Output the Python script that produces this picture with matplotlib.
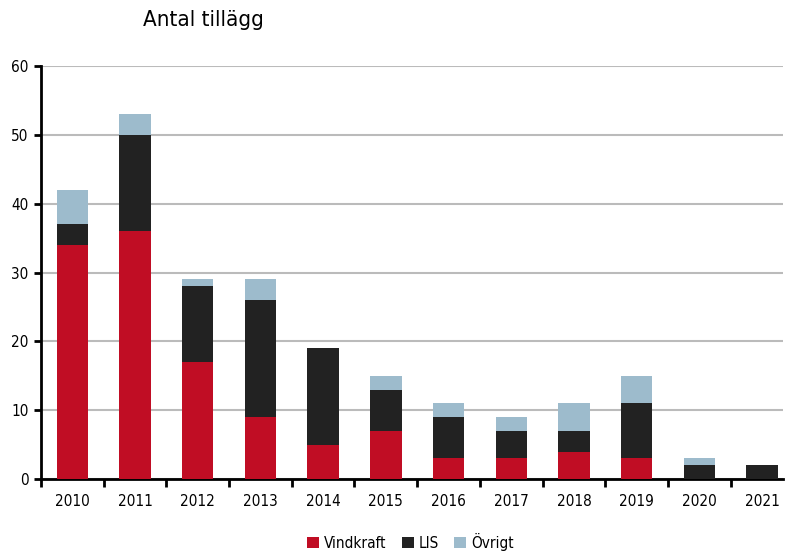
import matplotlib
matplotlib.use('Agg')
import matplotlib.pyplot as plt
import numpy as np

years = ['2010', '2011', '2012', '2013', '2014', '2015', '2016', '2017', '2018', '2019', '2020', '2021']
vindkraft = [34, 36, 17, 9, 5, 7, 3, 3, 4, 3, 0, 0]
lis = [3, 14, 11, 17, 14, 6, 6, 4, 3, 8, 2, 2]
ovrigt = [5, 3, 1, 3, 0, 2, 2, 2, 4, 4, 1, 0]

plt.rcParams['font.family'] = ['DejaVu Sans']
plt.rcParams['font.stretch'] = 'condensed'

fig = plt.figure(figsize=(7.89, 5.59), dpi=100)
ax = fig.add_axes([0.052, 0.143, 0.94, 0.739])

x = np.arange(len(years))
w = 0.5
v = np.array(vindkraft)
l = np.array(lis)
o = np.array(ovrigt)
ax.bar(x, v, w, color='#c00d24', label='Vindkraft', zorder=3)
ax.bar(x, l, w, bottom=v, color='#222222', label='LIS', zorder=3)
ax.bar(x, o, w, bottom=v + l, color='#9dbbcc', label='Övrigt', zorder=3)

ax.set_ylim(0, 60)
ax.set_xlim(-0.5, 11.33)
ax.set_yticks(range(0, 61, 10))
ax.yaxis.grid(True, color='#bbbbbb', linewidth=1.5, zorder=0)
ax.set_xticks(x)
ax.set_xticklabels(years)
ax.set_xticks(np.arange(-0.5, 11.5, 1), minor=True)
ax.tick_params(axis='x', which='major', length=0, pad=11, labelsize=11)
ax.tick_params(axis='x', which='minor', length=6, width=2, direction='out')
ax.tick_params(axis='y', length=5, width=2, labelsize=11, pad=4)

for s in ['top', 'right']:
    ax.spines[s].set_visible(False)
ax.spines['left'].set_linewidth(2)
ax.spines['bottom'].set_linewidth(2)

fig.text(0.181, 0.965, 'Antal tillägg', fontsize=16, va='center', ha='left')

fig.legend(loc='lower center', bbox_to_anchor=(0.52, -0.01), ncol=3, frameon=False,
           fontsize=11, handlelength=0.8, handleheight=0.8, handletextpad=0.3, columnspacing=1.0)

fig.savefig('out.png', dpi=100)
